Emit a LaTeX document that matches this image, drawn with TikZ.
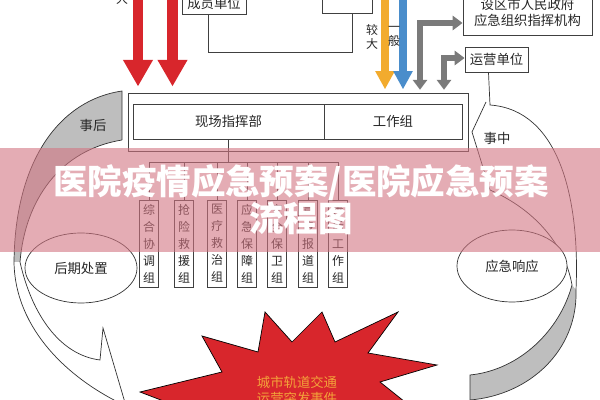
\documentclass[tikz,border=0pt]{standalone}
\usepackage{fontspec}
\setmainfont{Noto Sans CJK SC}
\usetikzlibrary{arrows.meta, shapes.geometric}

\definecolor{arrred}{HTML}{D8262C}
\definecolor{arrorange}{HTML}{F2AB2E}
\definecolor{arrblue}{HTML}{4A8DCB}
\definecolor{arrgray}{HTML}{7A7A7A}
\definecolor{bandgray}{HTML}{BEBEBE}
\definecolor{starorange}{HTML}{F3A33A}
\definecolor{bandpink}{RGB}{210,117,130}

\tikzset{
  box/.style={draw=black!75, line width=0.6pt, inner sep=0pt, text=black!85, font=\fontsize{9.5}{11.5}\selectfont},
  colbox/.style={box, minimum width=0.475cm, minimum height=2.175cm, align=center, font=\fontsize{8.5}{12.1}\selectfont},
  conn/.style={draw=black!75, line width=0.6pt},
  curve/.style={draw=black!80, line width=0.5pt},
  lbl/.style={text=black!85, font=\fontsize{9.5}{11.5}\selectfont},
  grayarr/.style={arrgray, line width=4.3pt, {Triangle[length=7pt,width=10pt]}-{Triangle[length=7pt,width=10pt]}},
}

\begin{document}
\begin{tikzpicture}[x=0.025cm, y=-0.025cm]
\useasboundingbox (0,0) rectangle (600,400);
\clip (0,0) rectangle (600,400);

% left and right circular arrows
\fill[bandgray] (122,91) .. controls (60,100) and (15,160) .. (14,262) -- (20,262) .. controls (25,200) and (60,150) .. (122,140) -- cycle;
\draw[curve] (122,140) -- (122,91) .. controls (60,100) and (15,160) .. (14,262) .. controls (15,330) and (70,380) .. (126,406);
\draw[curve] (122,140) .. controls (60,150) and (25,200) .. (20,262) .. controls (32,315) and (60,355) .. (100,360) -- (103,328) -- (126,406);

\fill[bandgray] (572,285) .. controls (560,330) and (520,370) .. (470,375) -- (470,400) .. controls (530,395) and (578,350) .. (576,290) -- cycle;

\node[box, minimum width=1.575cm, minimum height=0.625cm] (yy) at (496.5,59.5) {运营单位};
\draw[curve] ([xshift=-0.2cm]yy.south) -- (490,105) .. controls (560,110) and (580,200) .. (576,290) .. controls (578,350) and (530,395) .. (470,400) -- (470,375) .. controls (520,370) and (560,330) .. (572,285) .. controls (566,250) and (540,212) .. (490,190) -- (472,132) -- (486,102);

\node[lbl] (sh) at (93,125) {事后};
\node[lbl] (sz) at (497,138) {事中};

\node[draw=black!80, line width=0.5pt, ellipse, fill=white, minimum width=2.8cm, minimum height=1.75cm, lbl] (hq) at (81,268) {后期处置};
\node[draw=black!80, line width=0.5pt, ellipse, fill=white, minimum width=2.75cm, minimum height=1.8cm, lbl] (xy) at (512,266) {应急响应};

% top units
\node[box, minimum width=1.6cm, minimum height=0.55cm] (cyd) at (214,3) {成员单位};
\node[box, minimum width=1.25cm, minimum height=0.6cm] (ctr) at (347,1) {};
\draw[conn] ([xshift=-0.15cm]cyd.south) -- ++(0,38) -| ([xshift=0.125cm]ctr.south);
\node[box, minimum width=3.225cm, minimum height=1.125cm, align=center] (gov) at (527.5,12.5) {设区市人民政府\\应急组织指挥机构};

% command post
\node[box, minimum width=8.5cm, minimum height=1.45cm] (main) at (298,122) {};
\node[box, minimum width=4.775cm, minimum height=0.875cm] (xczh) at (228.5,121.5) {现场指挥部};
\node[box, minimum width=3.45cm, minimum height=0.875cm] (gzz) at (393,121.5) {工作组};

\foreach \x/\t [count=\i] in {149/{综\\合\\协\\调\\组}, 184/{抢\\险\\救\\援\\组}, 217/{医\\疗\\救\\治\\组}, 247/{应\\急\\保\\障\\组}, 277/{安\\全\\保\\卫\\组}, 308/{宣\\传\\报\\道\\组}, 338/{善\\后\\工\\作\\组}}
  \node[colbox] (grp\i) at (\x,243.5) {\t};

\coordinate (bus) at (230,162);
\foreach \i in {1,...,7}
  \draw[conn] (xczh.south) |- (grp\i.north |- bus) -- (grp\i.north);

% arrows from above
\coordinate (ra) at (138,-5);
\coordinate (rb) at (172.5,-5);
\draw[arrred, line width=7.8pt, -{Triangle[length=19pt,width=20pt]}, shorten >=0.15cm] (ra) -- (ra |- main.north);
\draw[arrred, line width=7.8pt, -{Triangle[length=19pt,width=20pt]}, shorten >=0.15cm] (rb) -- (rb |- main.north);
\node[lbl, font=\fontsize{8.5}{10}\selectfont] (da) at (122,-1) {大};

\coordinate (oa) at (385,-5);
\coordinate (ob) at (403,-5);
\draw[arrorange, line width=5.7pt, -{Triangle[length=13pt,width=13pt]}, shorten >=0.08cm] (oa) -- (oa |- main.north);
\draw[arrblue, line width=5.7pt, -{Triangle[length=13pt,width=13pt]}, shorten >=0.08cm] (ob) -- (ob |- main.north);
\node[lbl, align=center, font=\fontsize{8.5}{10}\selectfont] (jd) at (372,37) {较\\大};
\node[lbl, align=center, font=\fontsize{8.5}{10}\selectfont] (yb) at (394,36) {一\\般};

\coordinate (ga) at (420,23);
\coordinate (gb) at (444,58);
\draw[grayarr, shorten <=0.07cm] (ga |- main.north) |- (gov.west |- ga);
\draw[grayarr, shorten <=0.07cm] (gb |- main.north) |- (yy.west |- gb);

% event
\draw[fill=arrred, draw=black, line width=0.5pt] (187,410) -- (140,392) -- (222,372) -- (202,336) -- (258,352) -- (265,312) -- (292,342) -- (322,312) -- (335,342) -- (398,312) -- (368,353) -- (437,365) -- (380,382) -- (415,410) -- cycle;
\node[text=starorange, align=center, font=\fontsize{9.5}{11.4}\selectfont] (evt) at (297,390) {城市轨道交通\\运营突发事件};

% title band
\fill[bandpink, opacity=0.6] (0,148) rectangle (600,252);
\node[text=white, align=center, font=\bfseries\fontsize{24.5}{26.3}\selectfont] (ttl) at (301,199.5) {医院疫情应急预案/医院应急预案\\流程图};
\end{tikzpicture}
\end{document}
